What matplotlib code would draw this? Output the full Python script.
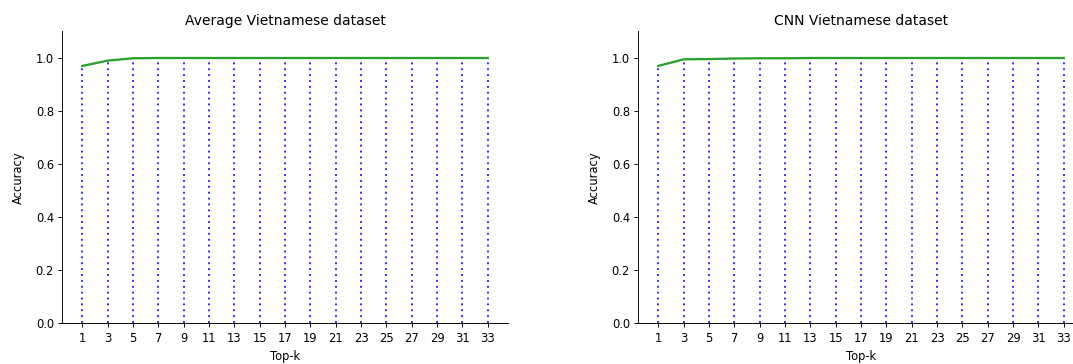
import matplotlib
matplotlib.use('Agg')
import matplotlib.pyplot as plt

# top-k values (odd k from 1 to 33)
top_k = [1, 3, 5, 7, 9, 11, 13, 15, 17, 19, 21, 23, 25, 27, 29, 31, 33]

# accuracy
acc_average = [0.970, 0.990, 0.999, 1.0, 1.0, 1.0, 1.0, 1.0, 1.0,
               1.0, 1.0, 1.0, 1.0, 1.0, 1.0, 1.0, 1.0]
acc_cnn = [0.970, 0.995, 0.996, 0.998, 0.999, 0.999, 1.0, 1.0, 1.0,
           1.0, 1.0, 1.0, 1.0, 1.0, 1.0, 1.0, 1.0]

titles = ['Average Vietnamese dataset', 'CNN Vietnamese dataset']

W, H = 1073, 364
DPI = 83
fig = plt.figure(figsize=(W / DPI, H / DPI), dpi=DPI)

ax_w = 446 / W
ax_h = 291.5 / H
bottom = 41 / H
ax1 = fig.add_axes([62 / W, bottom, ax_w, ax_h])
ax2 = fig.add_axes([638 / W, bottom, ax_w, ax_h])

for ax, acc, title in zip([ax1, ax2], [acc_average, acc_cnn], titles):
    ax.vlines(top_k, 0, acc, colors='#3333ff', linestyles=(0, (1, 2)), linewidth=1.7)
    ax.plot(top_k, acc, color='tab:green', linewidth=2)
    ax.set_ylim(0, 1.1)
    ax.set_xticks(top_k)
    ax.set_yticks([0.0, 0.2, 0.4, 0.6, 0.8, 1.0])
    ax.tick_params(axis='x', pad=4.5)
    ax.set_title(title, fontsize=12)
    ax.set_xlabel('Top-k', labelpad=4)
    ax.set_ylabel('Accuracy', labelpad=9)
    ax.spines['top'].set_visible(False)
    ax.spines['right'].set_visible(False)

fig.savefig('out.png', dpi=DPI)
